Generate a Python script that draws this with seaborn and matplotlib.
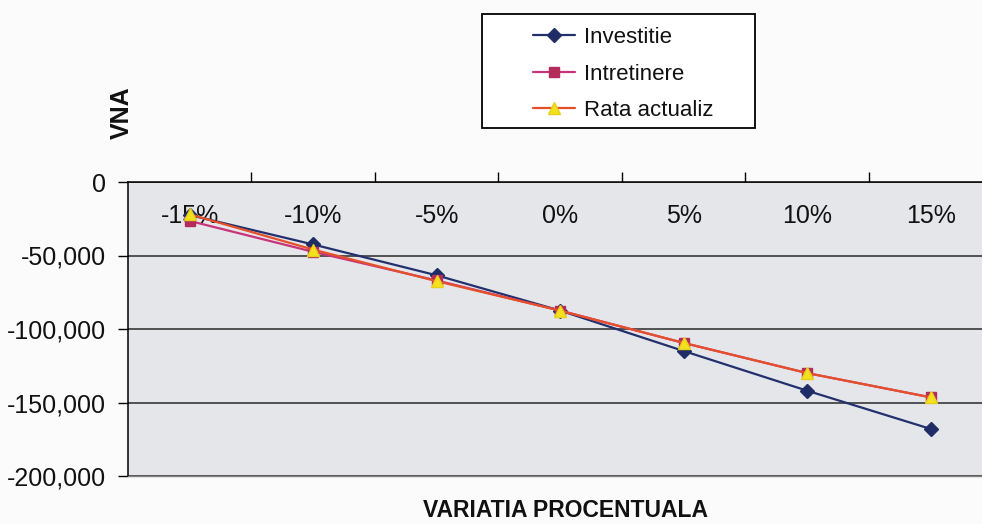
import pandas as pd
import numpy as np
import matplotlib
matplotlib.use("Agg")
import matplotlib.pyplot as plt
import matplotlib.patches as mpatches
from matplotlib.lines import Line2D
import seaborn as sns

# values
categories = ["-15%", "-10%", "-5%", "0%", "5%", "10%", "15%"]
investitie = [-22500, -42500, -63500, -87500, -115000, -142000, -168000]
intretinere = [-26500, -47500, -67000, -87500, -109500, -130000, -146500]
rata_actualiz = [-22000, -46000, -67500, -87500, -109500, -130000, -146500]

y_ticks = [0, -50000, -100000, -150000, -200000]
y_tick_labels = ["0", "-50,000", "-100,000", "-150,000", "-200,000"]

SERIES = [
    ("Investitie", investitie, dict(color="#22306e", marker="D", markerfacecolor="#1f2d66",
                                    markeredgecolor="#1f2d66", markersize=7)),
    ("Intretinere", intretinere, dict(color="#c8337a", marker="s", markerfacecolor="#b32c5c",
                                      markeredgecolor="#b32c5c", markersize=7)),
    ("Rata actualiz", rata_actualiz, dict(color="#e5502a", marker="^", markerfacecolor="#f2e21e",
                                          markeredgecolor="#e8d01a", markersize=9)),
]

sns.set_style("white")
plt.rcParams["font.family"] = ["Liberation Sans", "DejaVu Sans"]

fig = plt.figure(figsize=(9.82, 5.24), dpi=100, facecolor="#fbfbfb")
ax = fig.add_axes([128 / 982, 48 / 524, 864.5 / 982, 294 / 524])
ax.set_facecolor("#e4e6e9")

for name, vals, style in SERIES:
    df = pd.DataFrame({"variatia": categories, "vna": vals})
    sns.lineplot(data=df, x="variatia", y="vna", sort=False, ax=ax,
                 linewidth=1.6, markeredgewidth=1, **style)

ax.set_xlim(-0.5, len(categories) - 0.5)
ax.set_ylim(-200000, 0)

# y axis
ax.set_yticks(y_ticks, y_tick_labels)
ax.tick_params(axis="y", direction="out", length=7, width=1, color="black",
               labelsize=18, pad=9, left=True, labelcolor="#111111")
ax.yaxis.grid(True, color="#2a2a2a", linewidth=1.1)
ax.set_axisbelow(True)

# x axis sits at zero (top); labels inside the plot area
ax.set_xticks(range(len(categories)), categories)
ax.set_xticks(np.arange(0.5, len(categories) - 0.5, 1), minor=True)
ax.tick_params(axis="x", which="major", top=True, bottom=False, labeltop=True,
               labelbottom=False, length=0, labelsize=18, pad=-33, labelcolor="#111111")
ax.tick_params(axis="x", which="minor", top=True, bottom=False, direction="out",
               length=7, width=1, color="black")

for side in ["top", "left"]:
    ax.spines[side].set_color("black")
    ax.spines[side].set_linewidth(1.1)
ax.spines["bottom"].set_color("#808080")
ax.spines["bottom"].set_linewidth(1)
ax.spines["right"].set_visible(False)

ax.set_xlabel("VARIATIA PROCENTUALA", fontsize=16.5, fontweight="bold", va="center",
              color="#111111")
ax.xaxis.set_label_coords(0.5055, -0.116)
ax.set_ylabel("VNA", fontsize=18, fontweight="bold", rotation=90, va="center", ha="center",
              color="#111111")
ax.yaxis.set_label_coords(-0.007, 1.235)

# legend in a framed box like the Excel original
box = mpatches.Rectangle((482 / 982, 396 / 524), 273 / 982, 114 / 524,
                         transform=fig.transFigure, facecolor="white",
                         edgecolor="black", linewidth=1.3)
fig.patches.append(box)
handles = [Line2D([], [], linewidth=1.6, markeredgewidth=1, **style) for _, _, style in SERIES]
fig.legend(handles, [s[0] for s in SERIES], loc="upper left",
           bbox_to_anchor=(522 / 982, (524 - 16) / 524), frameon=False,
           fontsize=16, borderpad=0, handlelength=1.9, handletextpad=0.4,
           labelspacing=0.7, labelcolor="#111111")

fig.savefig("out.png", dpi=100, facecolor=fig.get_facecolor())
